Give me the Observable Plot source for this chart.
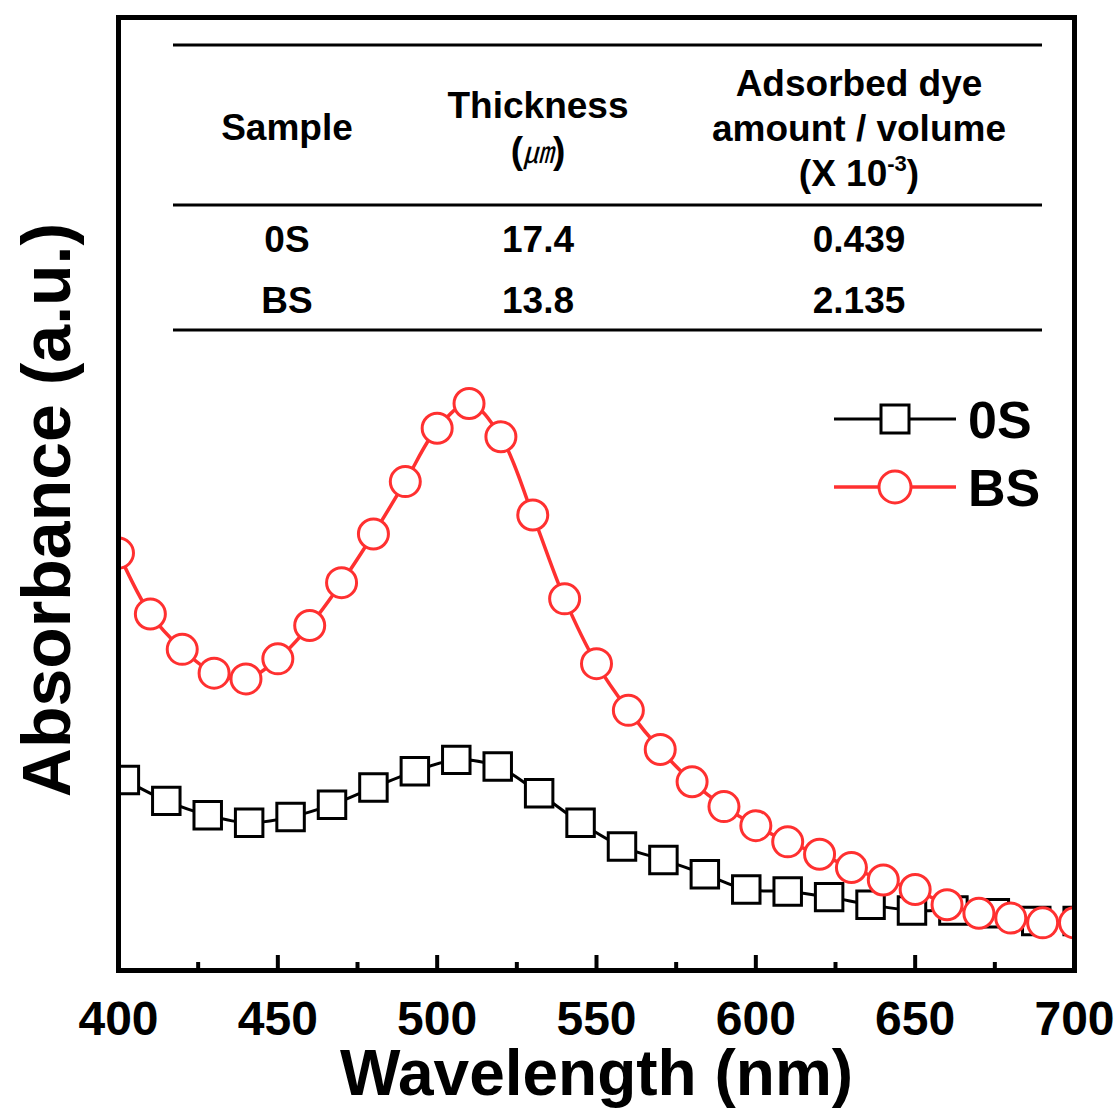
<!DOCTYPE html>
<html><head><meta charset="utf-8">
<script src="https://cdn.jsdelivr.net/npm/d3@7"></script>
<script src="https://cdn.jsdelivr.net/npm/@observablehq/plot@0.6"></script>
<style>
body{margin:0;background:#fff;}
#chart svg{font-family:"Liberation Sans", Arial, sans-serif;}
#chart svg [aria-label="x-axis tick label"] text{font-weight:bold;}
</style></head><body><div id="chart"></div>
<script>
// ---- data ----
const bsWavelength = [400,410,420,430,440,450,460,470,480,490,500,510,520,530,540,550,560,570,580,590,600,610,620,630,640,650,660,670,680,690,700];
const bsAbsorbance = [0.438,0.374,0.337,0.312,0.306,0.327,0.362,0.407,0.458,0.513,0.569,0.595,0.560,0.478,0.390,0.322,0.273,0.232,0.198,0.172,0.152,0.135,0.122,0.108,0.095,0.085,0.069,0.060,0.055,0.050,0.050];
const osWavelength = [402,415,428,441,454,467,480,493,506,519,532,545,558,571,584,597,610,623,636,649,662,675,688,701];
const osAbsorbance = [0.200,0.178,0.163,0.155,0.161,0.174,0.192,0.209,0.221,0.214,0.186,0.155,0.130,0.116,0.101,0.085,0.083,0.077,0.069,0.063,0.063,0.060,0.052,0.052];
const xMajorTicks = [400,450,500,550,600,650,700];
const xMinorTicks = [425,475,525,575,625,675];
const seriesNames = ["0S","BS"];
const seriesColors = ["#000000","#ff3030"];
// table
const headerSample = ["Sample"];
const headerThickness = ["Thickness","(㎛)"];
const headerDye = ["Adsorbed dye","amount / volume","(X 10","-3",")"];
const tableSamples = ["0S","BS"];
const tableThickness = ["17.4","13.8"];
const tableDye = ["0.439","2.135"];

const red = seriesColors[1];
const os = osWavelength.map((x,i)=>({x, y: osAbsorbance[i]}));
const bs = bsWavelength.map((x,i)=>({x, y: bsAbsorbance[i]}));

const W = 1120, H = 1111, mL = 118, mR = 46, mT = 17, mB = 141;
const plotH = H - mT - mB;

const chart = Plot.plot({
  width:W, height:H,
  marginLeft:mL, marginRight:mR, marginTop:mT, marginBottom:mB,
  x:{domain:[400,700]},
  y:{domain:[0,1], axis:null},
  style:{fontFamily:'"Liberation Sans", Arial, sans-serif', background:"white", color:"black"},
  marks:[
    Plot.line(os,{x:"x",y:"y",stroke:seriesColors[0],strokeWidth:3,curve:"catmull-rom",clip:true}),
    Plot.dot(os,{x:"x",y:"y",symbol:"square",r:15.5,stroke:seriesColors[0],strokeWidth:3,fill:"white",clip:true}),
    Plot.line(bs,{x:"x",y:"y",stroke:red,strokeWidth:3.5,curve:"catmull-rom",clip:true}),
    Plot.dot(bs,{x:"x",y:"y",symbol:"circle",r:15,stroke:red,strokeWidth:3,fill:"white",clip:true}),
    Plot.ruleX(xMajorTicks,{x:d=>d, insetTop:plotH-15, strokeWidth:4, stroke:"black"}),
    Plot.ruleX(xMinorTicks,{x:d=>d, insetTop:plotH-8, strokeWidth:4, stroke:"black"}),
    Plot.frame({strokeWidth:5}),
    Plot.axisX({ticks:xMajorTicks, tickSize:0, tickPadding:30, fontSize:48, tickFormat:d=>String(d), label:null}),
    Plot.text(["Wavelength (nm)"],{frameAnchor:"bottom", dy:104, fontSize:64, fontWeight:"bold", lineAnchor:"middle", textAnchor:"middle", text:d=>d}),
    Plot.text(["Absorbance (a.u.)"],{frameAnchor:"left", rotate:-90, dx:-70, dy:16, fontSize:68, fontWeight:"bold", lineAnchor:"middle", textAnchor:"middle", text:d=>d})
  ]
});
document.getElementById("chart").appendChild(chart);

// ---- table and legend drawn on the same svg ----
const svg = d3.select(chart);
const tbl = svg.append("g").attr("font-weight","bold").attr("font-size",37).attr("text-anchor","middle").attr("fill","black");
[45,205,330].forEach(y=>tbl.append("line").attr("x1",173).attr("x2",1042).attr("y1",y).attr("y2",y).attr("stroke","black").attr("stroke-width",3));
const colX = [287,538,859];
tbl.append("text").attr("x",colX[0]).attr("y",140).text(headerSample[0]);
tbl.append("text").attr("x",colX[1]).attr("y",118).text(headerThickness[0]);
const t2 = tbl.append("text").attr("x",colX[1]).attr("y",163);
t2.append("tspan").text("(");
t2.append("tspan").attr("font-family",'"Noto Sans CJK KR"').attr("font-weight","normal").attr("font-size",30).attr("font-style","italic").text(headerThickness[1].slice(1,-1));
t2.append("tspan").text(")");
tbl.append("text").attr("x",colX[2]).attr("y",96).text(headerDye[0]);
tbl.append("text").attr("x",colX[2]).attr("y",141).text(headerDye[1]);
const t3 = tbl.append("text").attr("x",colX[2]).attr("y",186);
t3.append("tspan").text(headerDye[2]);
t3.append("tspan").attr("font-size",22).attr("dy",-15).text(headerDye[3]);
t3.append("tspan").attr("dy",15).text(headerDye[4]);
const rowY = [252,313];
tableSamples.forEach((s,i)=>{
  tbl.append("text").attr("x",colX[0]).attr("y",rowY[i]).text(s);
  tbl.append("text").attr("x",colX[1]).attr("y",rowY[i]).text(tableThickness[i]);
  tbl.append("text").attr("x",colX[2]).attr("y",rowY[i]).text(tableDye[i]);
});

const leg = svg.append("g");
const legY = [419,487];
seriesNames.forEach((name,i)=>{
  const c = seriesColors[i];
  leg.append("line").attr("x1",834).attr("x2",956).attr("y1",legY[i]).attr("y2",legY[i]).attr("stroke",c).attr("stroke-width",i?3.5:3);
  if(i===0) leg.append("rect").attr("x",895-14).attr("y",legY[i]-14).attr("width",28).attr("height",28).attr("fill","white").attr("stroke",c).attr("stroke-width",3);
  else leg.append("circle").attr("cx",895).attr("cy",legY[i]).attr("r",16).attr("fill","white").attr("stroke",c).attr("stroke-width",3);
  leg.append("text").attr("x",968).attr("y",legY[i]+19).attr("text-anchor","start").attr("font-size",52).attr("font-weight","bold").attr("fill","black").text(name);
});
</script></body></html>
